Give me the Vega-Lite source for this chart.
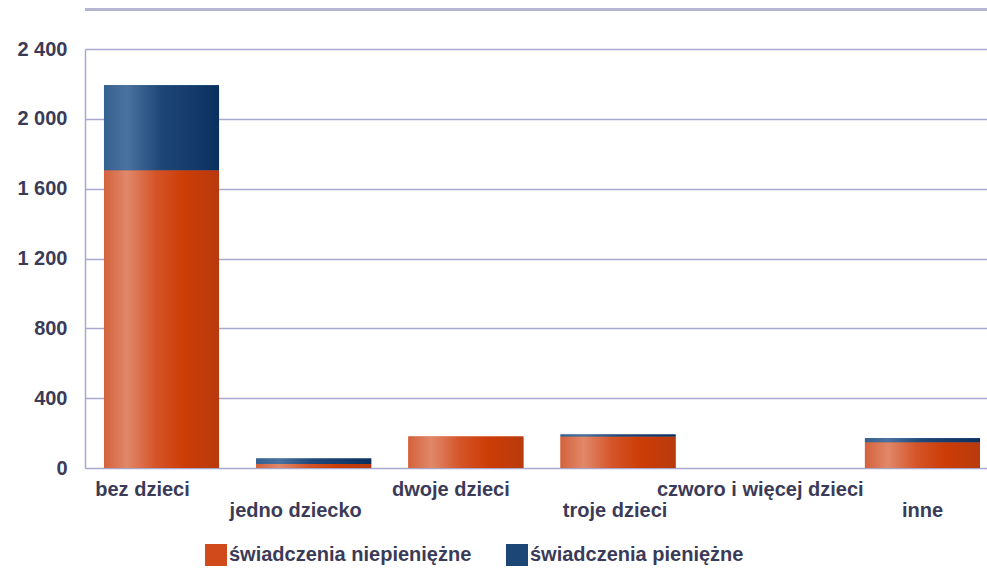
{
  "$schema": "https://vega.github.io/schema/vega-lite/v6.json",
  "width": 902,
  "height": 419,
  "autosize": "none",
  "padding": {"left": 85, "top": 49, "right": 0, "bottom": 103},
  "background": "white",
  "config": {"view": {"stroke": null}, "font": "Liberation Sans"},
  "layer": [
    {
      "data": {"values": [{"v": 2626}]},
      "mark": {"type": "rule", "color": "#b6b6d2", "strokeWidth": 3, "clip": false},
      "encoding": {"y": {"field": "v", "type": "quantitative"}}
    },
    {
      "data": {
        "values": [
          {"kategoria": "bez dzieci", "rodzaj": "świadczenia niepieniężne", "wartosc": 1705},
          {"kategoria": "bez dzieci", "rodzaj": "świadczenia pieniężne", "wartosc": 488},
          {"kategoria": "jedno dziecko", "rodzaj": "świadczenia niepieniężne", "wartosc": 23},
          {"kategoria": "jedno dziecko", "rodzaj": "świadczenia pieniężne", "wartosc": 32},
          {"kategoria": "dwoje dzieci", "rodzaj": "świadczenia niepieniężne", "wartosc": 181},
          {"kategoria": "dwoje dzieci", "rodzaj": "świadczenia pieniężne", "wartosc": 0},
          {"kategoria": "troje dzieci", "rodzaj": "świadczenia niepieniężne", "wartosc": 181},
          {"kategoria": "troje dzieci", "rodzaj": "świadczenia pieniężne", "wartosc": 11},
          {"kategoria": "czworo i więcej dzieci", "rodzaj": "świadczenia niepieniężne", "wartosc": 0},
          {"kategoria": "czworo i więcej dzieci", "rodzaj": "świadczenia pieniężne", "wartosc": 0},
          {"kategoria": "inne", "rodzaj": "świadczenia niepieniężne", "wartosc": 147},
          {"kategoria": "inne", "rodzaj": "świadczenia pieniężne", "wartosc": 23}
        ]
      },
      "transform": [
        {"stack": "wartosc", "groupby": ["kategoria"], "sort": [{"field": "rodzaj", "order": "ascending"}], "as": ["y0", "y1"]}
      ],
      "encoding": {
        "x": {
          "field": "kategoria",
          "type": "nominal",
          "sort": ["bez dzieci", "jedno dziecko", "dwoje dzieci", "troje dzieci", "czworo i więcej dzieci", "inne"],
          "scale": {"paddingInner": 0.244, "paddingOuter": 0.0854, "align": 0.73},
          "axis": {
            "title": null,
            "labelAngle": 0,
            "ticks": false,
            "domain": false,
            "labelFont": "Liberation Sans",
            "labelFontWeight": "bold",
            "labelFontSize": 20,
            "labelColor": "#3b3b58",
            "labelPadding": {"condition": {"test": "indexof(['jedno dziecko','troje dzieci','inne'], datum.value) >= 0", "value": 32}, "value": 11},
            "labelOffset": {"expr": "[-19,-18,-15,-3,-10,0][indexof(['bez dzieci','jedno dziecko','dwoje dzieci','troje dzieci','czworo i więcej dzieci','inne'], datum.value)]"},
            "labelLimit": 0,
            "labelOverlap": false,
            "labelBaseline": "top"
          }
        },
        "y": {
          "field": "y0",
          "type": "quantitative",
          "scale": {"domain": [0, 2400], "nice": false},
          "axis": {
            "title": null,
            "values": [0, 400, 800, 1200, 1600, 2000, 2400],
            "grid": true,
            "gridColor": "#a9a9cf",
            "gridWidth": 1.5,
            "domain": true,
            "domainColor": "#a9a9cf",
            "domainWidth": 1.5,
            "ticks": false,
            "labelPadding": 18,
            "labelFont": "Liberation Sans",
            "labelFontWeight": "bold",
            "labelFontSize": 20,
            "labelColor": "#3b3b58",
            "labelExpr": "replace(format(datum.value, ','), ',', ' ')"
          }
        },
        "y2": {"field": "y1"}
      },
      "layer": [
        {
          "mark": {"type": "bar"},
          "encoding": {
            "color": {
              "field": "rodzaj",
              "type": "nominal",
              "scale": {
                "domain": ["świadczenia niepieniężne", "świadczenia pieniężne"],
                "range": ["#d04a1c", "#1c4675"]
              },
              "legend": {
                "title": null,
                "orient": "none",
                "direction": "horizontal",
                "legendX": 120,
                "legendY": 495,
                "symbolType": "square",
                "symbolSize": 484,
                "symbolStrokeWidth": 0,
                "symbolOpacity": 1,
                "labelFont": "Liberation Sans",
                "labelFontWeight": "bold",
                "labelFontSize": 20,
                "labelColor": "#3b3b58",
                "labelLimit": 0,
                "labelOffset": 2,
                "columnPadding": 34
              }
            }
          }
        },
        {
          "transform": [{"filter": "datum.rodzaj === 'świadczenia niepieniężne'"}],
          "mark": {
            "type": "bar",
            "color": {"gradient": "linear", "x1": 0, "x2": 1, "y1": 0, "y2": 0, "stops": [
              {"offset": 0, "color": "#d4623c"},
              {"offset": 0.2, "color": "#e0886a"},
              {"offset": 0.45, "color": "#d45428"},
              {"offset": 0.7, "color": "#cc3c06"},
              {"offset": 1, "color": "#b83a0e"}
            ]}
          }
        },
        {
          "transform": [{"filter": "datum.rodzaj === 'świadczenia pieniężne'"}],
          "mark": {
            "type": "bar",
            "color": {"gradient": "linear", "x1": 0, "x2": 1, "y1": 0, "y2": 0, "stops": [
              {"offset": 0, "color": "#36608e"},
              {"offset": 0.2, "color": "#4a72a0"},
              {"offset": 0.5, "color": "#1e4676"},
              {"offset": 1, "color": "#0a3060"}
            ]}
          }
        }
      ]
    }
  ]
}
